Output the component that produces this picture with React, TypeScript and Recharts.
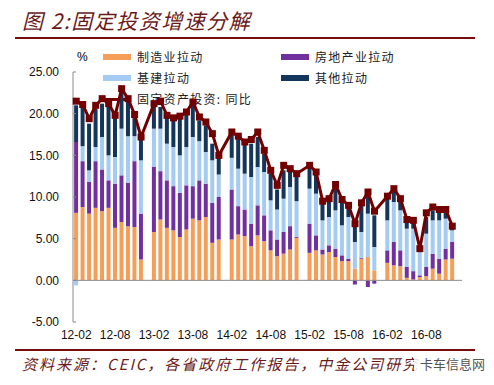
import { ComposedChart, Bar, Line, XAxis, YAxis, ReferenceLine } from "recharts";

// 12-02 .. 17-01, January values are not published (null)
const months = [
  "12-02", "12-03", "12-04", "12-05", "12-06", "12-07", "12-08", "12-09", "12-10", "12-11", "12-12",
  "13-01", "13-02", "13-03", "13-04", "13-05", "13-06", "13-07", "13-08", "13-09", "13-10", "13-11", "13-12",
  "14-01", "14-02", "14-03", "14-04", "14-05", "14-06", "14-07", "14-08", "14-09", "14-10", "14-11", "14-12",
  "15-01", "15-02", "15-03", "15-04", "15-05", "15-06", "15-07", "15-08", "15-09", "15-10", "15-11", "15-12",
  "16-01", "16-02", "16-03", "16-04", "16-05", "16-06", "16-07", "16-08", "16-09", "16-10", "16-11", "16-12",
  "17-01",
];

const manufacturing = [
  8.1, 8.8, 8.0, 8.7, 8.3, 8.7, 6.3, 7.0, 6.5, 6.4, 2.5,
  null, 5.8, 7.3, 6.3, 6.0, 5.2, 6.1, 7.4, 7.2, 7.6, 4.5, 4.9,
  null, 4.9, 5.5, 5.3, 4.1, 5.4, 4.7, 3.6, 2.9, 3.2, 3.7, 5.1,
  null, 3.3, 3.6, 3.1, 3.4, 2.8, 2.3, 2.3, 1.4, 2.6, 2.8, 1.2,
  null, 2.1, 1.8, 1.7, 0.3, 0.1, 0.4, 0.5, 1.4, 0.8, 2.5, 2.6,
  null,
];

const realEstate = [
  8.5, 5.5, 3.8, 5.6, 5.0, 3.3, 5.3, 5.6, 5.2, 7.9, 5.5,
  null, 7.8, 5.8, 5.7, 5.3, 5.3, 5.3, 3.9, 4.8, 4.0, 4.8, 5.1,
  null, 6.0, 3.4, 3.2, 2.7, 3.6, 3.1, 2.4, 2.0, 2.6, 2.8, 0.1,
  null, 3.5, 1.8, 0.6, 0.8, 1.0, 0.7, 0.3, -0.5, 0.1, -0.8, -0.4,
  null, 1.5, 2.8, 1.9, 1.3, 1.0, 0.2, 1.1, 1.8, 1.8, 1.3, 2.0,
  null,
];

const infrastructure = [
  -0.6, 1.8, 1.4, 1.7, 3.9, 3.0, 3.2, 5.6, 5.6, 3.0, 6.4,
  null, 4.6, 5.1, 4.4, 4.7, 4.5, 4.6, 5.9, 4.7, 3.8, 5.1, 2.7,
  null, 3.8, 4.5, 4.3, 5.6, 4.6, 5.2, 3.6, 3.6, 4.0, 4.7, 4.3,
  null, 4.2, 5.0, 3.5, 3.4, 4.6, 3.6, 5.0, 3.2, 3.1, 5.2, 2.8,
  null, 3.6, 4.8, 4.8, 4.6, 5.1, 2.8, 4.0, 4.0, 4.6, 3.6, 1.4,
  null,
];

const other = [
  4.4, 4.7, 5.6, 4.6, 4.0, 5.8, 4.7, 4.4, 4.3, 2.3, 2.5,
  null, 2.6, 2.6, 3.2, 3.4, 4.6, 4.0, 4.2, 2.5, 3.2, 2.0, 2.1,
  null, 3.1, 3.6, 3.5, 4.0, 3.6, 2.2, 3.2, 2.4, 3.4, 1.9, 3.1,
  null, 2.6, 2.4, 2.0, 2.0, 2.8, 2.8, 1.3, 2.0, 3.2, 2.8, 3.8,
  null, 2.6, 1.2, 1.2, 0.8, 0.7, 0.2, 2.0, 1.2, 1.3, 1.1, 0.2,
  null,
];

const faiYoy = [
  21.5, 21.1, 19.4, 21.0, 21.8, 21.2, 19.8, 23.0, 21.8, 19.9, 17.2,
  null, 21.2, 21.5, 19.8, 19.5, 19.7, 20.2, 21.4, 19.6, 19.0, 17.6, 15.0,
  null, 17.8, 17.3, 16.6, 16.9, 17.8, 15.6, 13.2, 11.4, 13.8, 13.4, 12.8,
  null, 13.8, 13.0, 9.5, 9.8, 11.5, 9.7, 9.0, 6.8, 9.3, 10.6, 8.3,
  null, 10.1, 11.0, 9.8, 7.3, 7.2, 3.8, 8.1, 8.8, 8.5, 8.5, 6.5,
  null,
];

const yTicks = [-5, 0, 5, 10, 15, 20, 25];

const data = months.map((m, i) => ({
  month: m,
  mfg: manufacturing[i],
  re: realEstate[i],
  infra: infrastructure[i],
  other: other[i],
  fai: faiYoy[i],
}));

const ORANGE = "#F69E58";
const PURPLE = "#7030A0";
const LIGHTBLUE = "#A3CBF3";
const NAVY = "#14365C";
const MAROON = "#720000";
const TEXT_RED = "#6B1A1A";

const cjk = "'Noto Sans CJK SC', sans-serif";
const latin = "'Liberation Sans', Arial, 'Noto Sans CJK SC', sans-serif";

const SquareDot = (props: any) => {
  const { cx, cy, index } = props;
  if (cx == null || cy == null || props.value == null) return <g key={index} />;
  return <rect key={index} x={cx - 3.5} y={cy - 3.5} width={7} height={7} fill={MAROON} />;
};

const legendItems = [
  { label: "制造业拉动", color: ORANGE, left: 103, top: 57 },
  { label: "房地产业拉动", color: PURPLE, left: 281, top: 57 },
  { label: "基建拉动", color: LIGHTBLUE, left: 103, top: 78 },
  { label: "其他拉动", color: NAVY, left: 281, top: 78 },
];

export default function App() {
  return (
    <div style={{ position: "absolute", left: 0, top: 0, width: 494, height: 385, background: "#fff" }}>
      <div
        style={{
          position: "absolute",
          left: 22,
          top: 7,
          fontSize: 21,
          lineHeight: "26px",
          letterSpacing: 1.5,
          fontStyle: "italic",
          color: TEXT_RED,
          fontFamily: cjk,
          whiteSpace: "nowrap",
        }}
      >
        图 2:固定投资增速分解
      </div>
      <div style={{ position: "absolute", left: 15, top: 37, width: 460, height: 2, background: "#7A0C0C" }} />

      {/* legend, drawn below the plot */}
      <div style={{ position: "absolute", left: 77, top: 50, fontSize: 12, lineHeight: "14px", fontFamily: latin }}>%</div>
      {legendItems.map((it) => (
        <div key={it.label}>
          <div
            style={{
              position: "absolute",
              left: it.left,
              top: it.top - 3,
              width: 28,
              height: 6,
              background: it.color,
            }}
          />
          <div
            style={{
              position: "absolute",
              left: it.left + 34,
              top: it.top - 8,
              fontSize: 12,
              lineHeight: "16px",
              letterSpacing: 1.3,
              color: "#222",
              fontFamily: cjk,
              whiteSpace: "nowrap",
            }}
          >
            {it.label}
          </div>
        </div>
      ))}
      <div style={{ position: "absolute", left: 103, top: 98, width: 28, height: 3, background: MAROON }} />
      <div
        style={{
          position: "absolute",
          left: 137,
          top: 91,
          fontSize: 12,
          lineHeight: "16px",
          letterSpacing: 1.3,
          color: "#222",
          fontFamily: cjk,
          whiteSpace: "nowrap",
        }}
      >
        固定资产投资: 同比
      </div>

      <div style={{ position: "absolute", left: 0, top: 0 }}>
        <ComposedChart
          width={494}
          height={350}
          data={data}
          stackOffset="sign"
          barCategoryGap="17%"
          margin={{ top: 72, right: 32, bottom: 8, left: 0 }}
        >
          <XAxis
            dataKey="month"
            interval={5}
            axisLine={false}
            tickLine={false}
            height={20}
            tickMargin={2}
            tick={{ fill: "#111", fontSize: 12, fontFamily: latin }}
          />
          <YAxis
            type="number"
            domain={[-5, 25]}
            ticks={yTicks}
            width={73}
            tickSize={-3}
            tickMargin={17}
            axisLine={{ stroke: "#8A8A8A" }}
            tickLine={{ stroke: "#8A8A8A" }}
            tick={{ fill: "#111", fontSize: 12, fontFamily: latin }}
            tickFormatter={(v: number) => v.toFixed(2)}
          />
          <ReferenceLine y={0} stroke="#8A8A8A" />
          <Bar dataKey="mfg" stackId="a" fill={ORANGE} isAnimationActive={false} />
          <Bar dataKey="re" stackId="a" fill={PURPLE} isAnimationActive={false} />
          <Bar dataKey="infra" stackId="a" fill={LIGHTBLUE} isAnimationActive={false} />
          <Bar dataKey="other" stackId="a" fill={NAVY} isAnimationActive={false} />
          <Line
            dataKey="fai"
            type="linear"
            stroke={MAROON}
            strokeWidth={3}
            connectNulls
            dot={SquareDot}
            activeDot={false}
            isAnimationActive={false}
          />
        </ComposedChart>
      </div>

      <div style={{ position: "absolute", left: 15, top: 349, width: 460, height: 2, background: "#7A0C0C" }} />
      <div
        style={{
          position: "absolute",
          left: 22,
          top: 355,
          fontSize: 15,
          lineHeight: "18px",
          letterSpacing: 2,
          fontStyle: "italic",
          color: TEXT_RED,
          fontFamily: cjk,
          whiteSpace: "nowrap",
        }}
      >
        资料来源：CEIC，各省政府工作报告，中金公司研究
      </div>
      <div
        style={{
          position: "absolute",
          left: 414,
          top: 356,
          paddingLeft: 6,
          fontSize: 13,
          lineHeight: "16px",
          color: "#555",
          background: "rgba(255,255,255,0.85)",
          fontFamily: cjk,
          whiteSpace: "nowrap",
        }}
      >
        卡车信息网
      </div>
    </div>
  );
}
